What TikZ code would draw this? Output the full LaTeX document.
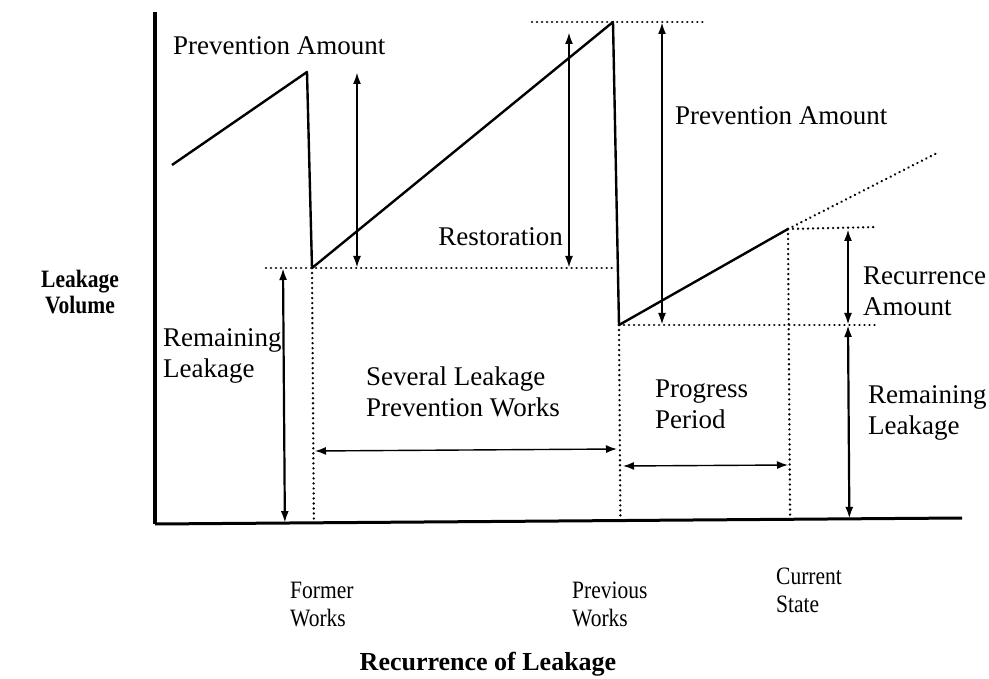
\documentclass[tikz,border=0pt]{standalone}
\usepackage{fontspec}
\setmainfont{Liberation Serif}
\newfontfamily\condserif[FakeStretch=0.86]{Liberation Serif}
\usetikzlibrary{arrows.meta,calc}
\begin{document}
\begin{tikzpicture}[x=1pt,y=-1pt,
  lbl/.style={inner sep=0pt, font=\fontsize{27}{31}\selectfont, align=left},
  slbl/.style={inner sep=0pt, font=\condserif\fontsize{25}{28}\selectfont, align=left},
  blbl/.style={inner sep=0pt, font=\condserif\fontsize{25}{26}\selectfont\bfseries, align=center},
  tlbl/.style={inner sep=0pt, font=\fontsize{26}{30}\selectfont\bfseries, align=center},
  yaxisline/.style={line width=4pt},
  xaxisline/.style={line width=3pt},
  saw/.style={line width=2.4pt, line join=round},
  guide/.style={line width=2.6pt, dash pattern=on 0.01pt off 5pt, line cap=round},
  dimv/.style={line width=2.2pt, {Latex[length=12pt,width=8pt]}-{Latex[length=12pt,width=8pt]}},
  dimh/.style={line width=1.4pt, {Latex[length=11pt,width=8pt]}-{Latex[length=11pt,width=8pt]}},
]
\useasboundingbox (0,0) rectangle (989,679);
% axes
\coordinate (Ytop) at (155,12);
\coordinate (O) at (155,524);
\coordinate (Xend) at (962,518);
\draw[yaxisline] (Ytop) -- (O);
\draw[xaxisline] (O) -- (Xend);
% sawtooth points
\coordinate (A0) at (172,165);
\coordinate (P1) at (307,72);
\coordinate (B1) at (312,268);
\coordinate (P2) at (613,22);
\coordinate (B2) at (619,325);
\coordinate (C) at (788,229);
\coordinate (E) at (937,153);
\draw[saw] (A0) -- (P1) -- (B1) -- (P2) -- (B2) -- (C);
% feet on the axis
\coordinate (F1) at ($(O)!(B1)!(Xend)$);
\coordinate (F2) at ($(O)!(B2)!(Xend)$);
\coordinate (F3) at ($(O)!(C)!(Xend)$);
% guide lines
\coordinate (G1a) at (266,268);
\coordinate (G1b) at (616,268);
\coordinate (G2a) at (532,22);
\coordinate (G2b) at (705,22);
\coordinate (G3b) at (878,325);
\coordinate (G4b) at (878,227);
\draw[guide] (G1a) -- (G1b);
\draw[guide] (G2a) -- (G2b);
\draw[guide] (B2) -- (G3b);
\draw[guide] (C) -- (G4b);
\draw[guide] (C) -- (E);
\draw[guide] (B1) -- (F1);
\draw[guide] (B2) -- (F2);
\draw[guide] (C) -- (F3);
% vertical dimension arrows
\coordinate (V1t) at (357,72);
\coordinate (V1b) at (357,268);
\coordinate (V2t) at (569,32);
\coordinate (V2b) at (569,268);
\coordinate (V3t) at (662,22);
\coordinate (V3b) at (662,325);
\coordinate (V4t) at (848,229);
\coordinate (V4m) at (848,325);
\coordinate (V4b) at ($(O)!(V4m)!(Xend)$);
\coordinate (V5t) at (283,268);
\coordinate (V5b) at ($(O)!(V5t)!(Xend)$);
\draw[dimv] (V1t) -- (V1b);
\draw[dimv] (V2t) -- (V2b);
\draw[dimv] (V3t) -- (V3b);
\draw[dimv] (V4t) -- (V4m);
\draw[dimv] (V4m) -- (V4b);
\draw[dimv] (V5t) -- (V5b);
% horizontal dimension arrows
\coordinate (H1a) at (315,451);
\coordinate (H1b) at (617,449);
\coordinate (H2a) at (623,466);
\coordinate (H2b) at (788,465);
\draw[dimh] (H1a) -- (H1b);
\draw[dimh] (H2a) -- (H2b);
% labels
\node[lbl, anchor=west] (tPA1) at (173,46) {Prevention Amount};
\node[lbl, anchor=west] (tPA2) at (675,116) {Prevention Amount};
\node[lbl, anchor=east] (tRes) at (563,237) {Restoration};
\node[lbl, anchor=west] (tRA) at (863,291) {Recurrence\\Amount};
\node[lbl, anchor=west] (tRL2) at (868,413) {Remaining\\Leakage};
\node[lbl, anchor=west] (tRL1) at (163,356) {Remaining\\Leakage};
\node[lbl, anchor=west] (tSev) at (366,392) {Several Leakage\\Prevention Works};
\node[lbl, anchor=west] (tProg) at (655,404) {Progress\\Period};
\node[blbl, anchor=center] (tLV) at (80,292) {Leakage\\Volume};
\node[slbl, anchor=west] (tFW) at (290,605) {Former\\Works};
\node[slbl, anchor=west] (tPW) at (572,604) {Previous\\Works};
\node[slbl, anchor=west] (tCS) at (776,590) {Current\\State};
\node[tlbl, anchor=center] (tRoL) at (488,664) {Recurrence of Leakage};
\end{tikzpicture}
\end{document}
